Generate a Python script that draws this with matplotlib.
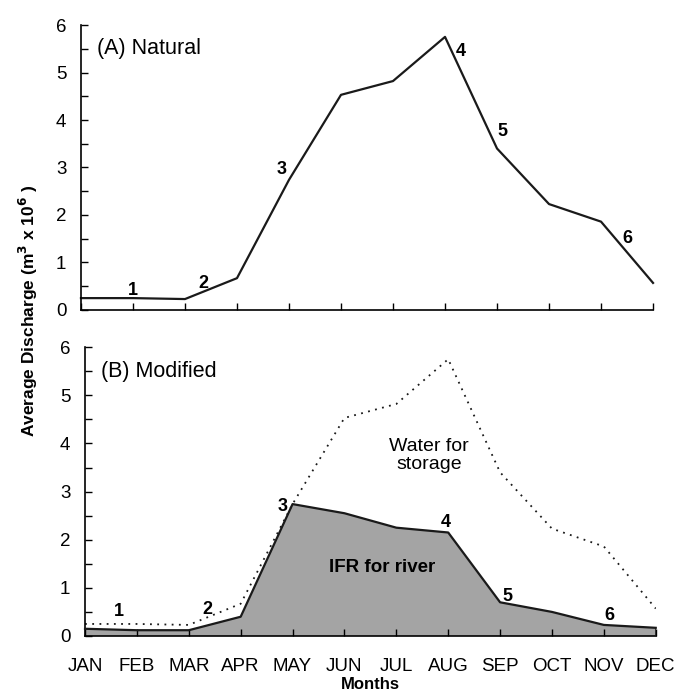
import numpy as np
import matplotlib
matplotlib.use("Agg")
import matplotlib.pyplot as plt
from matplotlib.ticker import MultipleLocator

plt.rcParams['font.family'] = ['Liberation Sans', 'DejaVu Sans']

months = ["JAN", "FEB", "MAR", "APR", "MAY", "JUN", "JUL", "AUG", "SEP", "OCT", "NOV", "DEC"]
natural = [0.25, 0.25, 0.23, 0.67, 2.74, 4.53, 4.82, 5.75, 3.40, 2.23, 1.86, 0.57]
ifr = [0.15, 0.12, 0.12, 0.40, 2.74, 2.55, 2.25, 2.15, 0.70, 0.50, 0.23, 0.17]

# flow-season markers (label, x, y) for each panel
marksA = [("1", 1.0, 0.42), ("2", 2.35, 0.55), ("3", 3.85, 2.95), ("4", 7.3, 5.45), ("5", 8.1, 3.75), ("6", 10.5, 1.5)]
marksB = [("1", 0.65, 0.5), ("2", 2.35, 0.55), ("3", 3.8, 2.7), ("4", 6.95, 2.35), ("5", 8.15, 0.82), ("6", 10.1, 0.42)]

x = np.arange(len(months))

fig = plt.figure(figsize=(6.77, 6.91), dpi=100)
axA = fig.add_axes([0.1196, 0.5514, 0.845, 0.4124])
axB = fig.add_axes([0.1256, 0.0796, 0.843, 0.418])

def style(ax):
	ax.set_xlim(0, 11)
	ax.set_ylim(0, 6)
	for s in ["top", "right"]:
		ax.spines[s].set_visible(False)
	for s in ["left", "bottom"]:
		ax.spines[s].set_linewidth(1.2)
	ax.set_xticks(x)
	ax.yaxis.set_major_locator(MultipleLocator(1))
	ax.yaxis.set_minor_locator(MultipleLocator(0.5))
	ax.tick_params(axis="both", which="both", direction="in", length=5, width=1.0, labelsize=13.5)
	ax.tick_params(axis="y", which="major", pad=10.5)

style(axA)
axA.plot(x, natural, color="#1a1a1a", lw=1.6, clip_on=False)
axA.set_xticklabels([])
axA.text(0.3, 5.5, "(A) Natural", fontsize=15.5, va="center")
for lab, xx, yy in marksA:
	axA.text(xx, yy, lab, fontsize=13, fontweight="bold", ha="center", va="center")

style(axB)
axB.fill_between(x, 0, ifr, facecolor="#a4a4a4", edgecolor="none", zorder=1)
axB.plot(x, ifr, color="#1a1a1a", lw=1.6, zorder=3, clip_on=False)
axB.plot([x[-1], x[-1]], [0, ifr[-1]], color="#1a1a1a", lw=1.2, zorder=3)
axB.plot(x, natural, color="#1a1a1a", lw=1.3, ls=(0, (1, 3)), zorder=2)
axB.set_xticklabels(months)
axB.tick_params(axis="x", pad=16)
axB.text(0.3, 5.5, "(B) Modified", fontsize=15.5, va="center")
axB.text(6.63, 3.75, "Water for\nstorage", fontsize=14, ha="center", va="center", linespacing=1.05)
axB.text(5.73, 1.43, "IFR for river", fontsize=13.5, fontweight="bold", ha="center", va="center")
for lab, xx, yy in marksB:
	axB.text(xx, yy, lab, fontsize=13, fontweight="bold", ha="center", va="center")
axB.set_xlabel("Months", fontsize=12, fontweight="bold", labelpad=1)

fig.text(0.042, 0.55, "Average Discharge (m$^\\mathbf{3}$ x 10$^\\mathbf{6}$ )", rotation=90,
	fontsize=12.5, fontweight="bold", ha="center", va="center")

fig.savefig("out.png", dpi=100)
